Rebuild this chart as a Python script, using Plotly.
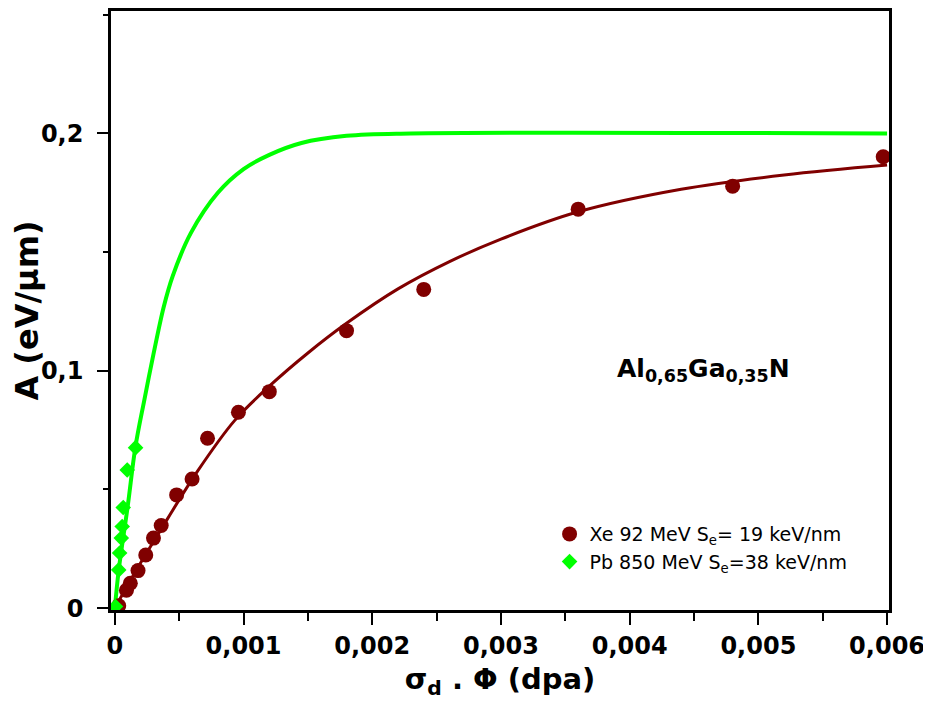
import plotly.graph_objects as go

# Xe 92 MeV measured points
xe_x = [0.00003, 0.00009, 0.00012, 0.00018, 0.00024, 0.0003, 0.00036, 0.00048, 0.0006,
        0.00072, 0.00096, 0.0012, 0.0018, 0.0024, 0.0036, 0.0048, 0.00597]
xe_y = [0.001, 0.0075, 0.0105, 0.0158, 0.0224, 0.0295, 0.0348, 0.0477, 0.0544,
        0.0716, 0.0825, 0.0912, 0.1169, 0.1343, 0.1681, 0.1778, 0.1902]

# Pb 850 MeV measured points
pb_x = [0.000005, 0.00003, 0.000037, 0.00005, 0.000057, 0.000065, 0.000096, 0.000161]
pb_y = [0.0007, 0.0161, 0.0232, 0.0295, 0.0344, 0.0424, 0.0582, 0.0676]

# fitted curves
xe_fit_x = [0, 0.00015, 0.00034, 0.00064, 0.00093, 0.0012, 0.0015, 0.0018, 0.0022,
            0.0026, 0.003, 0.0036, 0.0044, 0.0052, 0.006]
xe_fit_y = [0, 0.0145, 0.0315, 0.0575, 0.0790, 0.0935, 0.1075, 0.1200, 0.1345,
            0.1460, 0.1555, 0.1670, 0.1765, 0.1825, 0.1867]

pb_fit_x = [0, 0.00003, 0.0001, 0.00016, 0.00023, 0.0003, 0.00038, 0.00045, 0.00059,
            0.0008, 0.001, 0.0012, 0.00145, 0.0018, 0.0023, 0.006]
pb_fit_y = [0, 0.016, 0.043, 0.068, 0.088, 0.107, 0.127, 0.140, 0.158,
            0.175, 0.185, 0.191, 0.196, 0.199, 0.200, 0.200]

RED = "#800000"
GREEN = "#00ff00"
FONT = "Verdana, DejaVu Sans, sans-serif"

fig = go.Figure()
fig.add_trace(go.Scatter(x=xe_fit_x, y=xe_fit_y, mode="lines", line=dict(color=RED, width=3, shape="spline"),
                         showlegend=False, hoverinfo="skip"))
fig.add_trace(go.Scatter(x=pb_fit_x, y=pb_fit_y, mode="lines", line=dict(color=GREEN, width=4, shape="spline"),
                         showlegend=False, hoverinfo="skip"))
fig.add_trace(go.Scatter(x=xe_x, y=xe_y, mode="markers", name="Xe 92 MeV S<sub>e</sub>= 19 keV/nm",
                         marker=dict(symbol="circle", size=15, color=RED, line=dict(width=0))))
fig.add_trace(go.Scatter(x=pb_x, y=pb_y, mode="markers", name="Pb 850 MeV S<sub>e</sub>=38 keV/nm",
                         marker=dict(symbol="diamond", size=12, color=GREEN, line=dict(width=0))))

fig.add_annotation(x=0.00457, y=0.1003, xref="x", yref="y",
                   text="<b>Al<sub>0,65</sub>Ga<sub>0,35</sub>N</b>", showarrow=False,
                   font=dict(family=FONT, size=25, color="black"))

axis_common = dict(showline=True, linecolor="black", linewidth=2.5, mirror=True,
                   showgrid=False, zeroline=False, ticks="outside", tickcolor="black",
                   tickwidth=1.5, automargin=False, ticklabeloverflow="allow",
                   tickfont=dict(family=FONT, size=24, color="black", weight="bold"))

fig.update_xaxes(range=[-0.00003, 0.006015], dtick=0.001, tick0=0, ticklen=12,
                 minor=dict(dtick=0.0005, ticklen=8, ticks="outside", tickcolor="black", tickwidth=1.5),
                 title=dict(text="<b>σ<sub>d</sub> . Φ (dpa)</b>", font=dict(family=FONT, size=29, color="black"),
                            standoff=20),
                 **axis_common)
fig.update_yaxes(range=[-0.0008, 0.2516], dtick=0.1, tick0=0, ticklen=11, ticklabelstandoff=9,
                 minor=dict(dtick=0.05, ticklen=5, ticks="outside", tickcolor="black", tickwidth=1.5),
                 title=dict(text="<b>A (eV/μm)</b>", font=dict(family=FONT, size=32, color="black"),
                            standoff=0),
                 **axis_common)

# the page adds an 8 px body margin, so the figure is drawn 8 px in from the top-left corner
fig.update_layout(
    width=920, height=692,
    margin=dict(l=103, r=39, t=3, b=90),
    paper_bgcolor="white", plot_bgcolor="white",
    separators=", ",
    font=dict(family=FONT, color="black"),
    legend=dict(x=0.5637, y=0.1585, xanchor="left", yanchor="top", bgcolor="rgba(0,0,0,0)",
                font=dict(family=FONT, size=19, color="black"), tracegroupgap=0, itemwidth=30),
)

fig.write_html("out.html")
